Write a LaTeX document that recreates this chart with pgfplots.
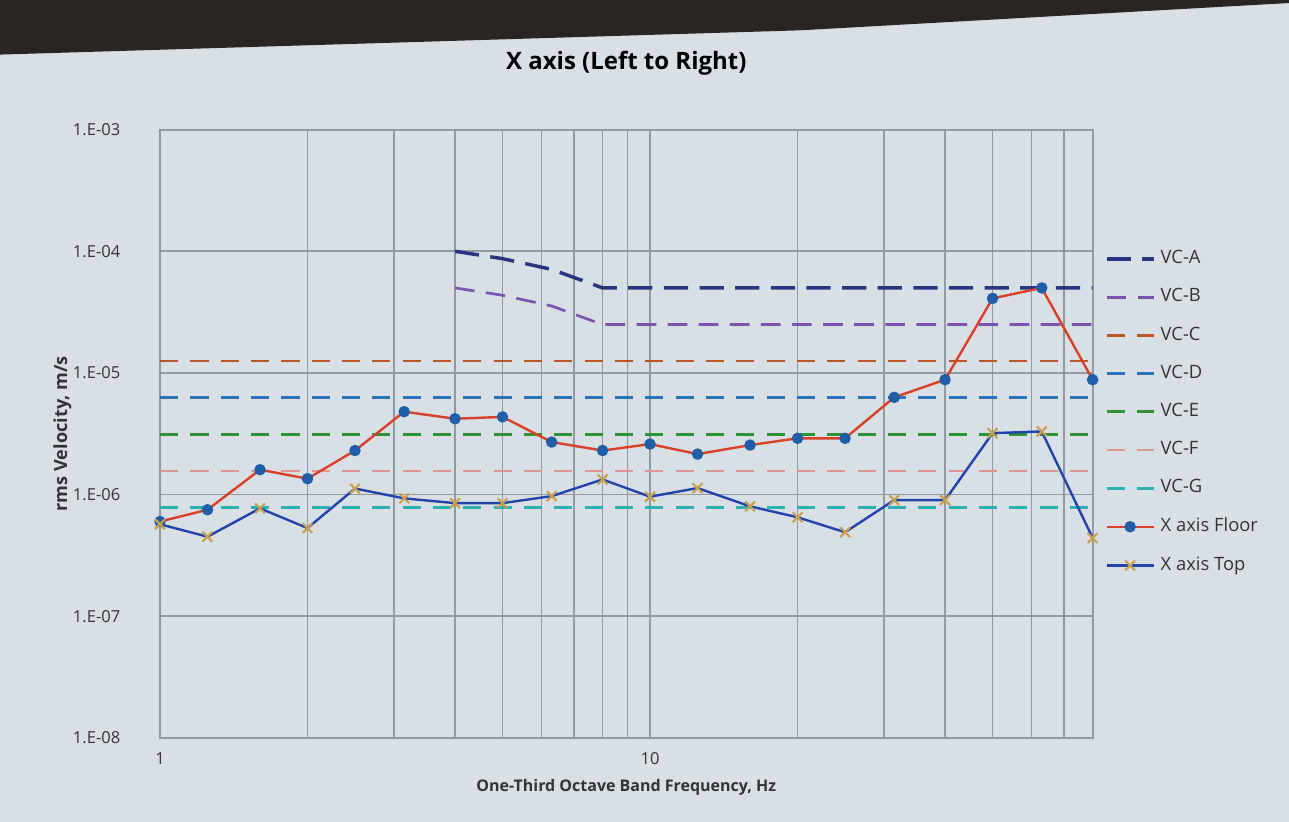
\documentclass[border=0pt]{standalone}
\usepackage{pgfplots}
\pgfplotsset{compat=1.18}
\usepackage{fontspec}
\setmainfont{Open Sans}

\definecolor{bg}{HTML}{D8E0E6}
\definecolor{bezel}{HTML}{2A2422}
\definecolor{gridc}{HTML}{9399A0}
\definecolor{txt}{HTML}{333333}
\definecolor{vca}{HTML}{27367E}
\definecolor{vcb}{HTML}{7A55AE}
\definecolor{vcc}{HTML}{B8582A}
\definecolor{vcd}{HTML}{2E72B4}
\definecolor{vce}{HTML}{2F9236}
\definecolor{vcf}{HTML}{D89890}
\definecolor{vcg}{HTML}{2FB0B0}
\definecolor{floorline}{HTML}{D9402A}
\definecolor{floormark}{HTML}{1F5FA8}
\definecolor{topline}{HTML}{2244AA}
\definecolor{topmark}{HTML}{C8A050}

\begin{document}
\begin{tikzpicture}
% photo background and screen edge
\fill[bg] (-2.11,-1.11) rectangle (14.89,9.73);
\fill[bezel] (-2.11,9.73) -- (14.89,9.73) -- (14.89,9.69) -- (8.44,9.33) -- (-2.11,9.01) -- cycle;

\begin{axis}[
    at={(0,0)}, anchor=south west,
    scale only axis,
    width=12.3cm, height=8.02cm,
    xmode=log, ymode=log,
    xmin=1, xmax=80, ymin=1e-8, ymax=1e-3,
    xtick={1,10}, xticklabels={1,10},
    minor xtick={2,3,4,5,6,7,8,9,20,30,40,50,60,70},
    ytick={1e-8,1e-7,1e-6,1e-5,1e-4,1e-3},
    yticklabels={1.E-08,1.E-07,1.E-06,1.E-05,1.E-04,1.E-03},
    xmajorgrids, xminorgrids, ymajorgrids,
    grid style={gridc, line width=0.6pt},
    minor grid style={gridc, line width=0.6pt},
    major tick length=0pt, minor tick length=0pt,
    axis line style={gridc, line width=0.8pt},
    tick label style={font=\fontsize{6.2}{7}\selectfont, text=txt},
    yticklabel style={xshift=-0.4cm},
    xticklabel style={yshift=-0.07cm},
    title={X axis (Left to Right)},
    title style={font=\bfseries\fontsize{9}{10}\selectfont, yshift=0.38cm, text=black},
    xlabel={One-Third Octave Band Frequency, Hz},
    ylabel={rms Velocity, m/s},
    xlabel style={font=\bfseries\fontsize{6}{7}\selectfont, text=txt, yshift=0.05cm},
    ylabel style={font=\bfseries\fontsize{6.8}{7}\selectfont, text=txt, yshift=-0.22cm},
    legend style={at={(1.004,0.82)}, anchor=north west, draw=none, fill=none,
      font=\fontsize{6.9}{8}\selectfont, text=txt, row sep=0.135cm},
    legend cell align=left,
    legend image code/.code={\draw[mark repeat=2,mark phase=2]
      plot coordinates {(0cm,0cm)(0.31cm,0cm)(0.62cm,0cm)};},
    every axis plot/.append style={line join=round},
]
% VC criterion curves
\addplot[vca, line width=1.3pt, dash pattern=on 0.32cm off 0.15cm] coordinates
  {(4,1e-4) (5,8.7e-5) (6.3,7.1e-5) (8,5e-5) (80,5e-5)};
\addlegendentry{VC-A}
\addplot[vcb, line width=1.0pt, dash pattern=on 0.26cm off 0.15cm] coordinates
  {(4,5e-5) (5,4.35e-5) (6.3,3.55e-5) (8,2.5e-5) (80,2.5e-5)};
\addlegendentry{VC-B}
\addplot[vcc, line width=1.0pt, dash pattern=on 0.24cm off 0.16cm] coordinates
  {(1,1.25e-5) (80,1.25e-5)};
\addlegendentry{VC-C}
\addplot[vcd, line width=1.0pt, dash pattern=on 0.24cm off 0.16cm] coordinates
  {(1,6.25e-6) (80,6.25e-6)};
\addlegendentry{VC-D}
\addplot[vce, line width=1.0pt, dash pattern=on 0.24cm off 0.16cm] coordinates
  {(1,3.12e-6) (80,3.12e-6)};
\addlegendentry{VC-E}
\addplot[vcf, line width=0.9pt, dash pattern=on 0.24cm off 0.16cm] coordinates
  {(1,1.56e-6) (80,1.56e-6)};
\addlegendentry{VC-F}
\addplot[vcg, line width=1.0pt, dash pattern=on 0.24cm off 0.16cm] coordinates
  {(1,7.8e-7) (80,7.8e-7)};
\addlegendentry{VC-G}

% measured
\addplot[floorline, line width=0.9pt, mark=*, mark size=1.7pt,
  mark options={fill=floormark, draw=floormark}] coordinates {
  (1,6.0e-7) (1.25,7.5e-7) (1.6,1.6e-6) (2,1.35e-6) (2.5,2.3e-6)
  (3.15,4.8e-6) (4,4.2e-6) (5,4.35e-6) (6.3,2.7e-6) (8,2.3e-6)
  (10,2.6e-6) (12.5,2.15e-6) (16,2.55e-6) (20,2.9e-6) (25,2.9e-6)
  (31.5,6.3e-6) (40,8.8e-6) (50,4.1e-5) (63,5.0e-5) (80,8.8e-6)};
\addlegendentry{X axis Floor}
\addplot[topline, line width=0.9pt, mark=x, mark size=2.6pt,
  mark options={draw=topmark, line width=0.8pt}] coordinates {
  (1,5.7e-7) (1.25,4.5e-7) (1.6,7.7e-7) (2,5.3e-7) (2.5,1.12e-6)
  (3.15,9.3e-7) (4,8.5e-7) (5,8.5e-7) (6.3,9.7e-7) (8,1.33e-6)
  (10,9.6e-7) (12.5,1.13e-6) (16,8.0e-7) (20,6.5e-7) (25,4.9e-7)
  (31.5,9.0e-7) (40,9.0e-7) (50,3.2e-6) (63,3.3e-6) (80,4.4e-7)};
\addlegendentry{X axis Top}
\end{axis}
\end{tikzpicture}
\end{document}
